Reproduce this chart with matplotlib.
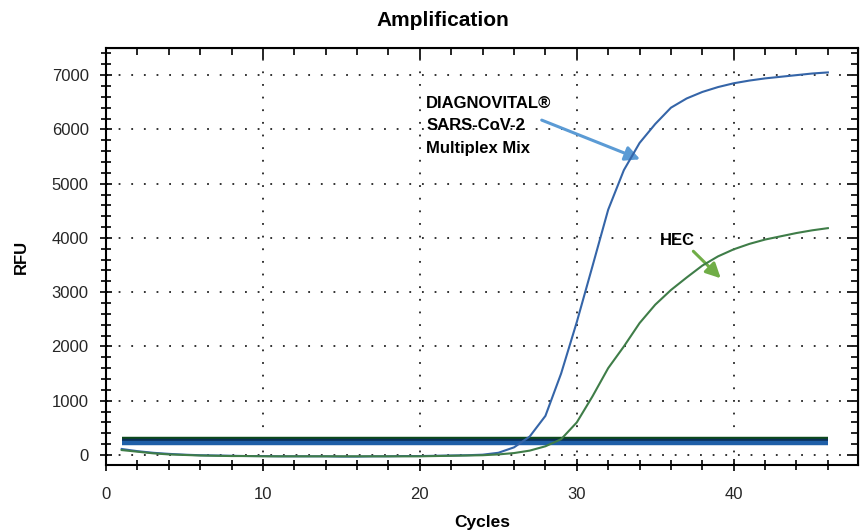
import numpy as np
import matplotlib.pyplot as plt
from matplotlib.ticker import MultipleLocator

plt.rcParams['font.family'] = ['Liberation Sans', 'DejaVu Sans']

# cycles and RFU readings
cycles = list(range(1, 47))
rfu_sars = [110, 70, 40, 20, 5, -5, -10, -15, -20, -20,
            -25, -25, -25, -25, -30, -30, -25, -25, -20, -20,
            -15, -10, -5, 5, 40, 140, 340, 720, 1500, 2450,
            3480, 4520, 5250, 5750, 6100, 6400, 6570, 6690, 6780, 6850,
            6900, 6940, 6970, 7000, 7030, 7050]
rfu_hec = [90, 60, 30, 10, 0, -10, -15, -20, -20, -25,
           -25, -25, -25, -25, -25, -25, -25, -25, -25, -25,
           -20, -15, -10, -5, 10, 35, 80, 160, 290, 600,
           1080, 1600, 2000, 2430, 2770, 3040, 3270, 3490, 3660, 3790,
           3890, 3970, 4030, 4090, 4140, 4180]

# threshold lines (drawn from cycle 1 to 46)
thresholds = [290, 250, 215]
threshold_colors = ['#0d4a1c', '#0a2d55', '#1f5fa8']

fig = plt.figure(figsize=(8.62, 5.31), dpi=100)
ax = fig.add_axes([0.123, 0.1243, 0.872, 0.7853])

for t, c in zip(thresholds, threshold_colors):
    ax.plot([cycles[0], cycles[-1]], [t, t], color=c, lw=3.2, solid_capstyle='butt', zorder=3)

ax.plot(cycles, rfu_sars, color='#3565a8', lw=1.5, zorder=4)
ax.plot(cycles, rfu_hec, color='#3f7d48', lw=1.5, zorder=4)

ax.set_xlim(0, 47.9)
ax.set_ylim(-185, 7500)

ax.xaxis.set_major_locator(MultipleLocator(10))
ax.xaxis.set_minor_locator(MultipleLocator(2))
ax.yaxis.set_major_locator(MultipleLocator(1000))
ax.yaxis.set_minor_locator(MultipleLocator(200))

ax.grid(True, which='major', color='#222222', linestyle=(0, (1, 6)), lw=1.3)

ax.tick_params(which='both', direction='inout', top=False, right=False,
               labelsize=12, labelcolor='#262626', color='black', width=1.2)
ax.tick_params(which='major', length=9)
ax.tick_params(which='minor', length=7)
ax.tick_params(axis='x', which='major', pad=11)
ax.tick_params(axis='y', which='major', pad=8)

# inward ticks on the top and right frame
ax2 = ax.secondary_xaxis('top')
ax2.xaxis.set_major_locator(MultipleLocator(10))
ax2.xaxis.set_minor_locator(MultipleLocator(2))
ax2.tick_params(which='both', direction='in', labeltop=False, width=1.2)
ax2.tick_params(which='major', length=8)
ax2.tick_params(which='minor', length=5)
ay2 = ax.secondary_yaxis('right')
ay2.yaxis.set_major_locator(MultipleLocator(1000))
ay2.yaxis.set_minor_locator(MultipleLocator(200))
ay2.tick_params(which='both', direction='in', labelright=False, width=1.2)
ay2.tick_params(which='major', length=8)
ay2.tick_params(which='minor', length=5)

for s in ax.spines.values():
    s.set_linewidth(1.5)

ax.set_xlabel('Cycles', fontsize=12.5, fontweight='bold', labelpad=10)
ax.set_ylabel('RFU', fontsize=12, fontweight='bold', labelpad=16)
fig.text(0.514, 0.962, 'Amplification', ha='center', va='center',
         fontsize=15, fontweight='bold')

ax.annotate('', xy=(34.2, 5430), xytext=(27.6, 6190),
            arrowprops=dict(arrowstyle='-|>', color='#5b9bd5', lw=2.2, mutation_scale=22))
ax.text(20.4, 6620, 'DIAGNOVITAL®\nSARS-CoV-2\nMultiplex Mix', ha='left', va='top',
        fontsize=12, fontweight='bold', linespacing=1.62, zorder=5)

ax.annotate('', xy=(39.3, 3220), xytext=(37.3, 3790),
            arrowprops=dict(arrowstyle='-|>', color='#70ad47', lw=2.2, mutation_scale=22))
ax.text(35.3, 3960, 'HEC', ha='left', va='center', fontsize=12, fontweight='bold', zorder=5)

fig.savefig('out.png', dpi=100)
